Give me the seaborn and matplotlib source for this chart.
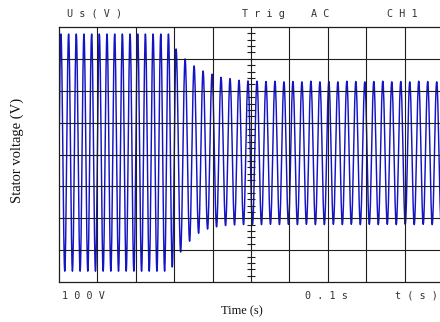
import numpy as np
import pandas as pd
import matplotlib
matplotlib.use("Agg")
import matplotlib.pyplot as plt
import seaborn as sns

# ---------------- data ----------------
first_peak_time = 0.005      # s
period_fast = 0.020          # s (before the transition)
period_slow = 0.0234         # s (after the transition)
n_fast_peaks = 16            # peaks spaced by period_fast (last one starts the decay)

# peak voltages (V), in order
peak_values = [378, 378, 378, 378, 378, 378, 378, 378, 378, 378, 378, 378, 378, 378, 378,
               331,
               300, 278, 262, 252, 242, 238, 233, 231, 230, 229, 230, 228, 229, 228, 230,
               228, 229, 228, 230, 229, 228, 229, 230, 228, 229, 228, 230, 229, 228, 229]
# trough voltages (V): one before the first peak, then one after each peak but the last
trough_values = [-366,
                 -366, -366, -366, -366, -366, -366, -366, -366, -366, -366, -366, -366, -366, -366,
                 -353, -306,
                 -272, -247, -234, -227, -223, -221, -220, -219, -220, -219, -220, -219, -220,
                 -219, -220, -220, -219, -220, -219, -220, -219, -220, -219, -220, -219, -220,
                 -219, -220, -219]

top_labels = ["U s ( V )", "T r i g", "A C", "C H 1"]
bottom_labels = ["1 0 0 V", "0 . 1 s", "t ( s )"]
x_label = "Time (s)"
y_label = "Stator voltage (V)"

# ---------------- build waveform ----------------
peak_times = []
for k in range(len(peak_values)):
    if k < n_fast_peaks:
        peak_times.append(first_peak_time + k * period_fast)
    else:
        peak_times.append(peak_times[n_fast_peaks - 1] + (k - n_fast_peaks + 1) * period_slow)

ext_t = [peak_times[0] - period_fast / 2]
ext_v = [trough_values[0]]
for k in range(len(peak_values)):
    ext_t.append(peak_times[k]); ext_v.append(peak_values[k])
    if k + 1 < len(peak_values):
        ext_t.append((peak_times[k] + peak_times[k + 1]) / 2)
        ext_v.append(trough_values[k + 1])

ts, vs = [], []
s = np.linspace(0, 1, 16, endpoint=False)
for i in range(len(ext_t) - 1):
    t0, t1, v0, v1 = ext_t[i], ext_t[i + 1], ext_v[i], ext_v[i + 1]
    ts.extend(t0 + (t1 - t0) * s)
    vs.extend((v0 + v1) / 2 + (v0 - v1) / 2 * np.cos(np.pi * s))
ts.append(ext_t[-1]); vs.append(ext_v[-1])
df = pd.DataFrame({"t": ts, "v": vs})

# ---------------- figure ----------------
sns.set_theme(style="white")
plt.rcParams["font.family"] = ["DejaVu Sans"]

W, H = 440, 322
fig = plt.figure(figsize=(W / 100, H / 100), dpi=100)
ax = fig.add_axes([59 / W, 40 / H, 384 / W, 255 / H])

sns.lineplot(data=df, x="t", y="v", ax=ax, color="#1414c4", linewidth=1.05,
             estimator=None, sort=False, zorder=2)

ax.set_xlim(0, 1.0)
ax.set_ylim(-400, 400)
ax.set_xticks([]); ax.set_yticks([])
ax.set_xlabel(""); ax.set_ylabel("")

gcol = "#1e1e1e"
for xv in np.arange(0.1, 1.0, 0.1):
    ax.axvline(xv, color=gcol, lw=0.8, zorder=3)
for yv in np.arange(-300, 301, 100):
    ax.axhline(yv, color=gcol, lw=0.8, zorder=3)
# minor ticks on central vertical axis
yt = np.arange(-380, 381, 20)
ax.hlines(yt, 0.5 - 0.011, 0.5 + 0.011, color=gcol, lw=0.8, zorder=3)

for sp in ax.spines.values():
    sp.set_color(gcol); sp.set_linewidth(0.9)

mono = dict(family="DejaVu Sans Mono", fontsize=7.3, color="#333333", va="center", ha="left")
for lab, x in zip(top_labels, [67, 242, 311, 387]):
    fig.text(x / W, 1 - 14 / H, lab, **mono)
for lab, x in zip(bottom_labels, [62, 305, 395]):
    fig.text(x / W, 1 - 296 / H, lab, **mono)

fig.text(242 / W, 1 - 311 / H, x_label, family="Liberation Serif", fontsize=9,
         ha="center", va="center", color="#111111")
fig.text(17.5 / W, 1 - 150 / H, y_label, family="Liberation Serif", fontsize=10.5,
         ha="center", va="center", rotation=90, color="#111111")

fig.savefig("out.png", dpi=100)
